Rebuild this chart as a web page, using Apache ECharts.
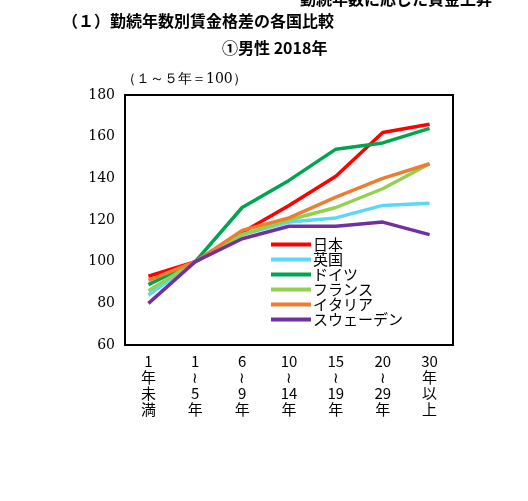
<!DOCTYPE html><html><head><meta charset="utf-8">
<script src="https://cdn.jsdelivr.net/npm/echarts@6/dist/echarts.min.js"></script>
<style>body{margin:0;background:#fff}#c{width:528px;height:501px}</style></head><body><div id="c"></div>
<script>
const categories=["1\n年\n未\n満","1\n≀\n5\n年","6\n≀\n9\n年","10\n≀\n14\n年","15\n≀\n19\n年","20\n≀\n29\n年","30\n年\n以\n上"];
const names=["日本","英国","ドイツ","フランス","イタリア","スウェーデン"];
const colors=["#ff0000","#5ad8f5","#00a550","#92d050","#ed7d31","#7030a0"];
const japan=[93,100,114,127,141,162,166];
const uk=[84,100,113,119,121,127,128];
const germany=[89,100,126,139,154,157,164];
const france=[86,100,113,120,126,135,147];
const italy=[91,100,115,121,131,140,147];
const sweden=[80,100,111,117,117,119,113];
const data=[japan,uk,germany,france,italy,sweden];
const ch=echarts.init(document.getElementById('c'));
const ff='"Noto Sans CJK JP"';
ch.setOption({
 animation:false,
 graphic:[
  {type:'text',left:300,top:-9,style:{text:'勤続年数に応じた賃金上昇',font:'bold 16px '+ff,fill:'#000'}},
  {type:'text',left:62,top:13,style:{text:'（１）勤続年数別賃金格差の各国比較',font:'bold 16px '+ff,fill:'#000'}},
  {type:'text',left:222,top:40,style:{text:'①男性 2018年',font:'bold 16px '+ff,fill:'#000'}},
  {type:'text',left:122,top:72,style:{text:'（１～５年＝100）',font:'14px "DejaVu Serif"',fill:'#000'}}
 ],
 grid:{left:125,top:95,width:328,height:250,show:true,borderColor:'#000',borderWidth:2},
 legend:{orient:'vertical',left:266,top:232,itemGap:0,itemWidth:40,itemHeight:4,icon:'rect',
  textStyle:{fontFamily:ff,fontSize:15,color:'#000',padding:[0,0,0,-3]},data:names},
 xAxis:{type:'category',data:categories,axisTick:{show:false},axisLine:{lineStyle:{color:'#000',width:2}},
  axisLabel:{color:'#000',fontFamily:ff,fontSize:15,lineHeight:16,margin:8}},
 yAxis:{type:'value',min:60,max:180,interval:20,splitLine:{show:false},
  axisLine:{show:true,lineStyle:{color:'#000',width:2}},axisTick:{show:false},
  axisLabel:{color:'#000',fontFamily:'"DejaVu Serif"',fontSize:14,margin:10}},
 series:names.map((n,i)=>({name:n,type:'line',data:data[i],symbol:'none',color:colors[i],lineStyle:{width:3.5}}))
});
</script>
</body></html>
